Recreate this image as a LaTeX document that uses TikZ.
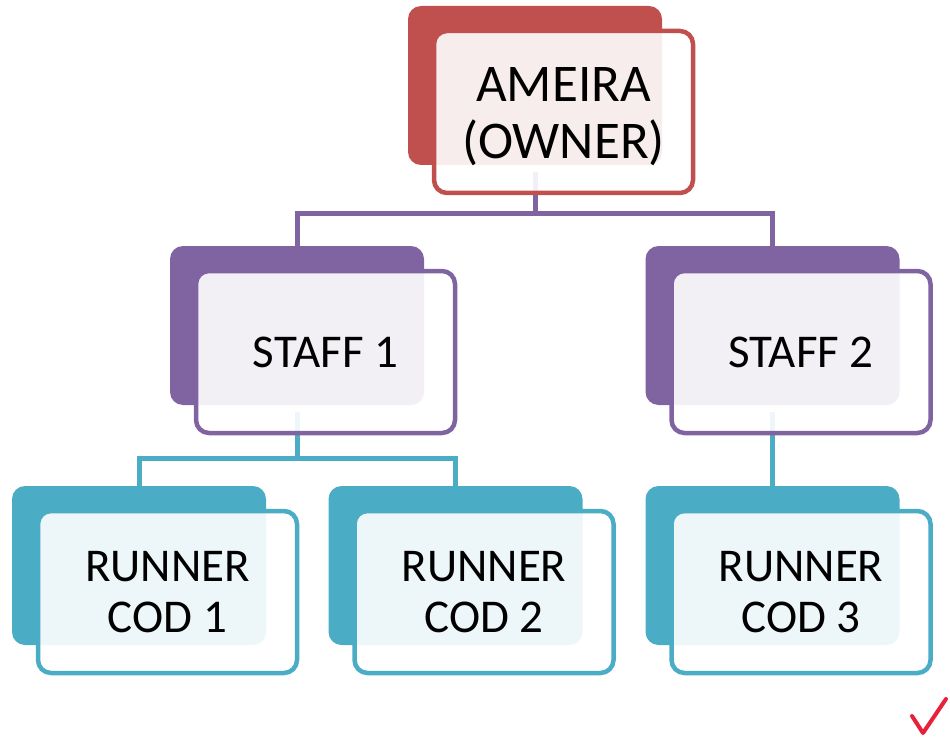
\documentclass[tikz,border=0pt]{standalone}
\usepackage{fontspec}
\setmainfont{Carlito}
\usetikzlibrary{calc}
\pgfdeclarelayer{background}
\pgfsetlayers{background,main}
\definecolor{cred}{HTML}{C0504D}
\definecolor{cpurple}{HTML}{8064A2}
\definecolor{caqua}{HTML}{4BACC6}
\definecolor{ccheck}{HTML}{E8203A}
\begin{document}
\begin{tikzpicture}[x=1pt,y=-1pt,
  backbox/.style={rectangle, rounded corners=13pt, fill=#1, minimum width=254pt, minimum height=159pt, inner sep=0pt},
  frontbox/.style={rectangle, rounded corners=13pt, draw=#1, line width=4.5pt, fill=white, fill opacity=0.9, draw opacity=1, text opacity=1, minimum width=259pt, minimum height=162pt, inner sep=0pt, align=center, text=black},
  bigtext/.style={font=\fontsize{53}{57}\selectfont, align=center, inner sep=0pt},
  smalltext/.style={font=\fontsize{47}{51}\selectfont},
  conn/.style={draw=#1, line width=5pt}
]
\useasboundingbox (0,0) rectangle (950,738);

% owner
\node[backbox=cred] (ownerback) at (535,85.5) {};
\node[frontbox=cred] (owner) at ($(ownerback)+(28.5,26.5)$) {};
\node[bigtext] (ownertext) at ($(owner)+(0,5)$) {AMEIRA\\(OWNER)};

% staff
\node[backbox=cpurple] (staff1back) at (297,325.5) {};
\node[frontbox=cpurple, smalltext] (staff1) at ($(staff1back)+(28.5,26.5)$) {STAFF 1};
\node[backbox=cpurple] (staff2back) at (772.5,325.5) {};
\node[frontbox=cpurple, smalltext] (staff2) at ($(staff2back)+(28.5,26.5)$) {STAFF 2};

% runners
\node[backbox=caqua] (run1back) at (139,565.5) {};
\node[frontbox=caqua, smalltext] (run1) at ($(run1back)+(28.5,26.5)$) {RUNNER\\COD 1};
\node[backbox=caqua] (run2back) at (455.5,565.5) {};
\node[frontbox=caqua, smalltext] (run2) at ($(run2back)+(28.5,26.5)$) {RUNNER\\COD 2};
\node[backbox=caqua] (run3back) at (772.5,565.5) {};
\node[frontbox=caqua, smalltext] (run3) at ($(run3back)+(28.5,26.5)$) {RUNNER\\COD 3};

\begin{pgfonlayer}{background}
\draw[conn=cpurple] ($(ownerback.south)+(0,7)$) -- ++(0,41) coordinate (j1) -| (staff1back.north);
\draw[conn=cpurple] (j1) -| (staff2back.north);
\draw[conn=caqua] ($(staff1back.south)+(0,7)$) -- ++(0,46) coordinate (j2) -| (run1back.north);
\draw[conn=caqua] (j2) -| (run2back.north);
\draw[conn=caqua] ($(staff2back.south)+(0,7)$) -- (run3back.north);
\end{pgfonlayer}

% check mark
\draw[ccheck, line width=4pt, line cap=round, line join=round] (912,716) -- (923,733) -- (946,699);
\end{tikzpicture}
\end{document}
